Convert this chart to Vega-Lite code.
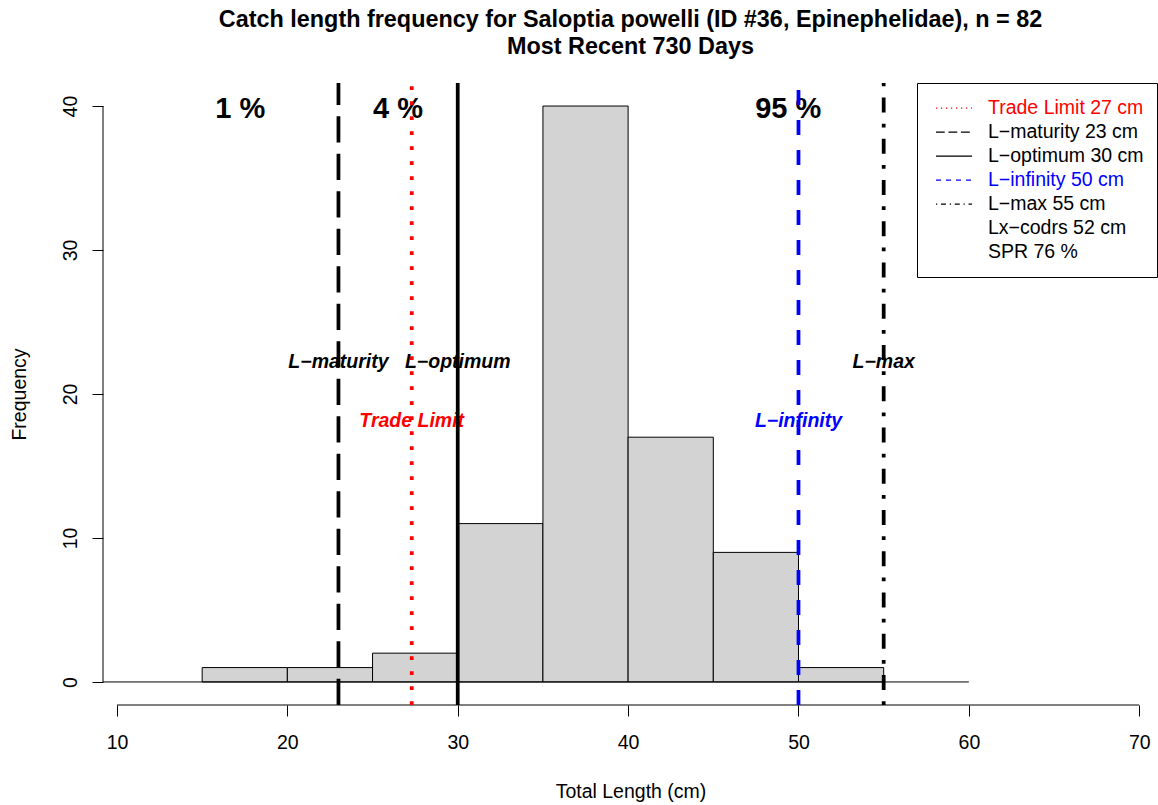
{
  "$schema": "https://vega.github.io/schema/vega-lite/v6.json",
  "width": 1055,
  "height": 622,
  "autosize": "none",
  "padding": {"left": 103, "top": 83, "right": 0, "bottom": 100},
  "background": "white",
  "title": {
    "text": ["Catch length frequency for Saloptia powelli (ID #36, Epinephelidae), n = 82", "Most Recent 730 Days"],
    "font": "Liberation Sans",
    "fontSize": 23.4,
    "fontWeight": "bold",
    "color": "black",
    "lineHeight": 27.5,
    "anchor": "middle",
    "frame": "group",
    "offset": 21.5
  },
  "config": {
    "view": {"stroke": null},
    "font": "Liberation Sans",
    "axisX": {
      "domain": false, "grid": false, "ticks": true, "tickSize": 11, "tickColor": "black", "tickWidth": 1,
      "labelFont": "Liberation Sans", "labelFontSize": 19.5, "labelColor": "black", "labelBaseline": "alphabetic",
      "labelPadding": 32, "labelFlush": false, "labelOverlap": false,
      "titleFont": "Liberation Sans", "titleFontSize": 19.5, "titleFontWeight": "normal", "titleColor": "black",
      "titleBaseline": "alphabetic", "titleY": 92
    },
    "axisY": {
      "domain": false, "grid": false, "ticks": true, "tickSize": 11, "tickColor": "black", "tickWidth": 1,
      "labelFont": "Liberation Sans", "labelFontSize": 19.5, "labelColor": "black", "labelAngle": 270,
      "labelAlign": "center", "labelBaseline": "alphabetic", "labelPadding": 16, "labelFlush": false, "labelOverlap": false,
      "titleFont": "Liberation Sans", "titleFontSize": 19.5, "titleFontWeight": "normal", "titleColor": "black",
      "titleAngle": 270, "titleBaseline": "alphabetic", "titleX": -78
    }
  },
  "datasets": {
    "bins": [
      {"start": 15, "end": 20, "count": 1},
      {"start": 20, "end": 25, "count": 1},
      {"start": 25, "end": 30, "count": 2},
      {"start": 30, "end": 35, "count": 11},
      {"start": 35, "end": 40, "count": 40},
      {"start": 40, "end": 45, "count": 17},
      {"start": 45, "end": 50, "count": 9},
      {"start": 50, "end": 55, "count": 1}
    ],
    "lines": [
      {"name": "Trade Limit 27 cm", "label": "Trade Limit", "length": 27.3, "labelY": 18.1},
      {"name": "L−maturity 23 cm", "label": "L−maturity", "length": 23, "labelY": 22.2},
      {"name": "L−optimum 30 cm", "label": "L−optimum", "length": 30, "labelY": 22.2},
      {"name": "L−infinity 50 cm", "label": "L−infinity", "length": 50, "labelY": 18.1},
      {"name": "L−max 55 cm", "label": "L−max", "length": 55, "labelY": 22.2}
    ],
    "pct": [
      {"label": "1 %", "x": 17.24, "y": 40},
      {"label": "4 %", "x": 26.5, "y": 40},
      {"label": "95 %", "x": 49.4, "y": 40}
    ]
  },
  "resolve": {"scale": {"color": "independent"}},
  "layer": [
    {
      "data": {"name": "bins"},
      "mark": {"type": "rect", "fill": "#D3D3D3", "stroke": "black", "strokeWidth": 1},
      "encoding": {
        "x": {"field": "start", "type": "quantitative", "title": "Total Length (cm)",
              "scale": {"domain": [9.18, 71.1], "nice": false, "zero": false},
              "axis": {"values": [10, 20, 30, 40, 50, 60, 70]}},
        "x2": {"field": "end"},
        "y": {"field": "count", "type": "quantitative", "title": "Frequency",
              "scale": {"domain": [-1.6, 41.6], "nice": false, "zero": false},
              "axis": {"values": [0, 10, 20, 30, 40]}},
        "y2": {"datum": 0}
      }
    },
    {
      "data": {"values": [{}]},
      "mark": {"type": "rule", "stroke": "black", "strokeWidth": 1},
      "encoding": {
        "x": {"datum": 9.18, "type": "quantitative", "title": "Total Length (cm)"},
        "x2": {"datum": 60},
        "y": {"datum": 0, "type": "quantitative", "title": "Frequency"}
      }
    },
    {
      "data": {"values": [{}]},
      "mark": {"type": "rule", "stroke": "black", "strokeWidth": 1},
      "encoding": {
        "x": {"datum": 10, "type": "quantitative", "title": "Total Length (cm)"},
        "x2": {"datum": 70},
        "y": {"datum": -1.6, "type": "quantitative", "title": "Frequency"}
      }
    },
    {
      "data": {"values": [{}]},
      "mark": {"type": "rule", "stroke": "black", "strokeWidth": 1},
      "encoding": {
        "x": {"datum": 9.18, "type": "quantitative", "title": "Total Length (cm)"},
        "y": {"datum": 0, "type": "quantitative", "title": "Frequency"},
        "y2": {"datum": 40}
      }
    },
    {
      "data": {"name": "pct"},
      "mark": {"type": "text", "font": "Liberation Sans", "fontSize": 29, "fontWeight": "bold", "color": "black", "baseline": "middle", "align": "center", "dy": 3},
      "encoding": {
        "x": {"field": "x", "type": "quantitative", "title": "Total Length (cm)"},
        "y": {"field": "y", "type": "quantitative", "title": "Frequency"},
        "text": {"field": "label"}
      }
    },
    {
      "data": {"name": "lines"},
      "mark": {"type": "text", "font": "Liberation Sans", "fontSize": 19.5, "fontWeight": "bold", "fontStyle": "italic", "baseline": "middle", "align": "center"},
      "encoding": {
        "x": {"field": "length", "type": "quantitative", "title": "Total Length (cm)"},
        "y": {"field": "labelY", "type": "quantitative", "title": "Frequency"},
        "text": {"field": "label"},
        "color": {"field": "name", "type": "nominal", "legend": null,
                  "scale": {"domain": ["Trade Limit 27 cm", "L−maturity 23 cm", "L−optimum 30 cm", "L−infinity 50 cm", "L−max 55 cm"],
                            "range": ["#FF0000", "#000000", "#000000", "#0000FF", "#000000"]}}
      }
    },
    {
      "data": {"name": "lines"},
      "mark": {"type": "rule", "strokeWidth": 3.75, "strokeCap": "butt"},
      "encoding": {
        "x": {"field": "length", "type": "quantitative", "title": "Total Length (cm)"},
        "y": {"datum": -1.6, "type": "quantitative", "title": "Frequency"},
        "y2": {"datum": 41.6},
        "color": {"field": "name", "type": "nominal",
                  "scale": {"domain": ["Trade Limit 27 cm", "L−maturity 23 cm", "L−optimum 30 cm", "L−infinity 50 cm", "L−max 55 cm", "Lx−codrs 52 cm", "SPR 76 %"],
                            "range": ["#FF0000", "#000000", "#000000", "#0000FF", "#000000", "transparent", "transparent"]},
                  "legend": {
                    "title": null, "orient": "none", "legendX": 814, "legendY": 0,
                    "symbolType": "stroke", "symbolSize": 1296, "symbolStrokeWidth": 1.25, "symbolOffset": 5,
                    "labelFont": "Liberation Sans", "labelFontSize": 19.5, "labelOffset": 15, "labelLimit": 400,
                    "padding": 13, "clipHeight": 24, "rowPadding": 0,
                    "strokeColor": "black", "fillColor": "white",
                    "encode": {
                      "labels": {"update": {"fill": {"signal": "datum.label == 'Trade Limit 27 cm' ? '#FF0000' : (datum.label == 'L−infinity 50 cm' ? '#0000FF' : '#000000')"}}},
                      "symbols": {"update": {
                        "strokeWidth": {"value": 1.25},
                        "strokeDash": {"signal": "datum.value == 'Trade Limit 27 cm' ? [1.25, 3.75] : (datum.value == 'L−maturity 23 cm' ? [8.75, 3.75] : (datum.value == 'L−infinity 50 cm' ? [5, 5] : (datum.value == 'L−max 55 cm' ? [1.25, 3.75, 5, 3.75] : [1, 0])))"}
                      }}
                    }
                  }},
        "strokeDash": {"field": "name", "type": "nominal", "legend": null,
                       "scale": {"domain": ["Trade Limit 27 cm", "L−maturity 23 cm", "L−optimum 30 cm", "L−infinity 50 cm", "L−max 55 cm"],
                                 "range": [[3.75, 11.25], [26.25, 11.25], [1, 0], [15, 15], [3.75, 11.25, 15, 11.25]]}}
      }
    }
  ]
}
